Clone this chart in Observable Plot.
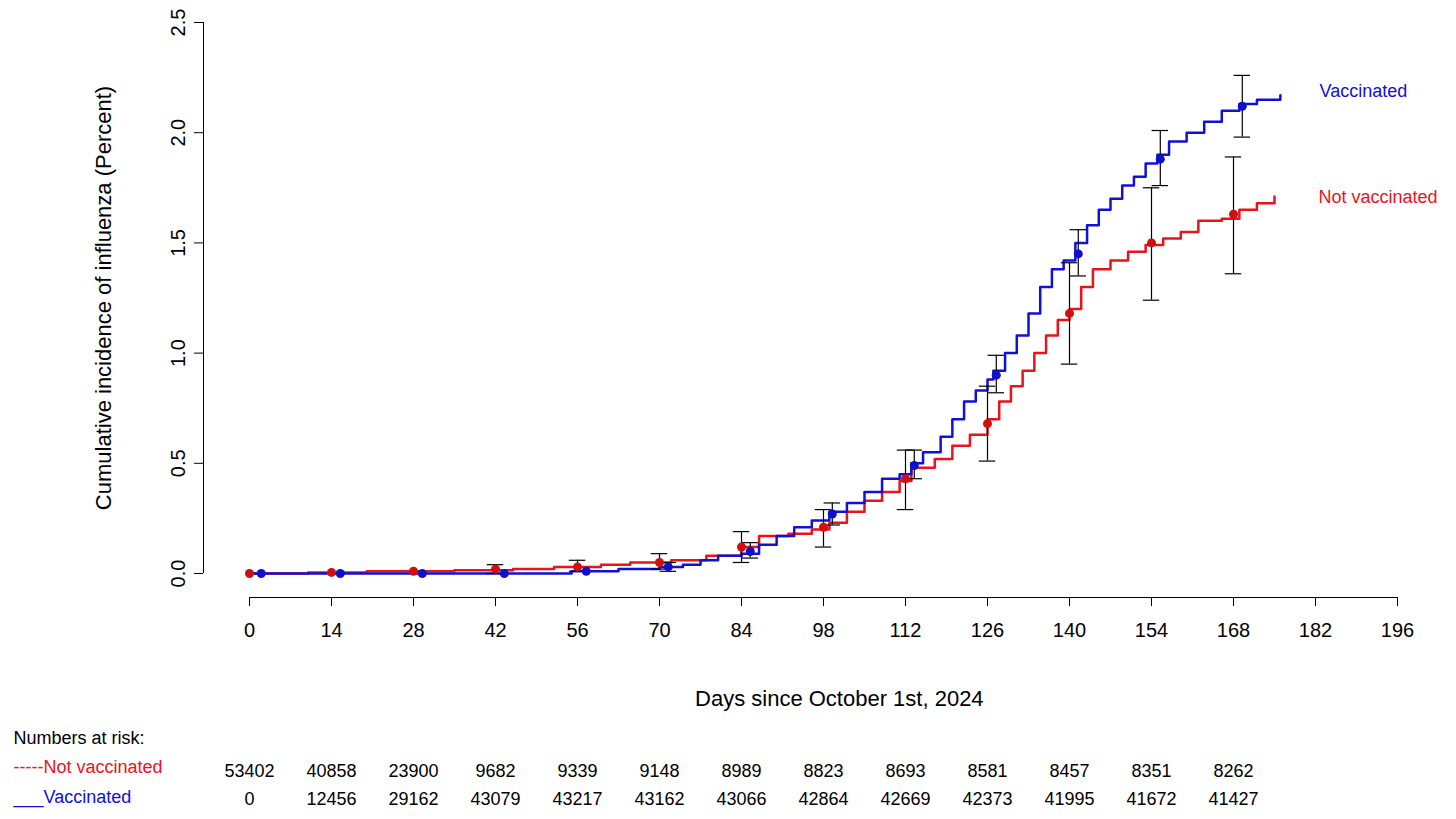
<!DOCTYPE html>
<html><head><meta charset="utf-8">
<script src="https://cdn.jsdelivr.net/npm/d3@7"></script>
<script src="https://cdn.jsdelivr.net/npm/@observablehq/plot@0.6"></script>
<style>body{margin:0;background:#fff}svg{font-family:"Liberation Sans",Arial,sans-serif}</style>
</head><body><div id="c"></div>
<script>
const vacDays=[0,55,63,70,74,77,80,84,87,90,93,96,99,102,105,108,111,113,115,118,120,122,124,126,127,129,131,133,135,137,139,141,143,145,147,149,151,153,155,157,160,163,166,169,172,176];
const vacVals=[0,0.01,0.02,0.03,0.04,0.06,0.08,0.09,0.13,0.17,0.21,0.24,0.28,0.32,0.37,0.43,0.45,0.50,0.55,0.62,0.70,0.78,0.83,0.88,0.92,1.00,1.08,1.18,1.30,1.38,1.42,1.50,1.58,1.65,1.70,1.76,1.80,1.86,1.90,1.96,2.00,2.05,2.10,2.13,2.15,2.17];
const notDays=[0,10,20,35,45,52,60,65,72,78,84,87,92,96,99,102,105,108,111,113,117,120,123,126,128,130,132,134,136,138,140,142,144,147,150,153,156,159,162,166,169,172,175];
const notVals=[0,0.005,0.01,0.015,0.02,0.03,0.04,0.05,0.06,0.08,0.12,0.17,0.18,0.20,0.23,0.28,0.33,0.37,0.42,0.48,0.52,0.58,0.63,0.70,0.78,0.85,0.92,1.00,1.08,1.15,1.20,1.30,1.38,1.42,1.46,1.49,1.52,1.55,1.60,1.61,1.65,1.68,1.71];
const ptDaysNot=[0,14,28,42,56,70,84,98,112,126,140,154,168];
const ptNot=[0,0.005,0.01,0.02,0.03,0.05,0.12,0.21,0.43,0.68,1.18,1.50,1.63];
const loNot=[0,0.005,0.01,0,0.01,0.02,0.05,0.12,0.29,0.51,0.95,1.24,1.36];
const hiNot=[0,0.005,0.01,0.04,0.06,0.09,0.19,0.29,0.56,0.85,1.41,1.75,1.89];
const ptDaysVac=[2,15.5,29.5,43.5,57.5,71.5,85.5,99.5,113.5,127.5,141.5,155.5,169.5];
const ptVac=[0,0,0,0,0.01,0.03,0.10,0.27,0.49,0.90,1.45,1.88,2.12];
const loVac=[0,0,0,0,0.01,0.01,0.07,0.22,0.43,0.82,1.35,1.76,1.98];
const hiVac=[0,0,0,0,0.01,0.05,0.14,0.32,0.56,0.99,1.56,2.01,2.26];
const xTicks=d3.range(0,197,14);
const yTicks=[0,0.5,1,1.5,2,2.5];
const riskDays=[0,14,28,42,56,70,84,98,112,126,140,154,168];
const riskNot=[53402,40858,23900,9682,9339,9148,8989,8823,8693,8581,8457,8351,8262];
const riskVac=[0,12456,29162,43079,43217,43162,43066,42864,42669,42373,41995,41672,41427];

const vac=vacDays.map((d,i)=>({d,v:vacVals[i]}));
const not=notDays.map((d,i)=>({d,v:notVals[i]}));
const pn=ptDaysNot.map((d,i)=>({d,v:ptNot[i],lo:loNot[i],hi:hiNot[i]}));
const pv=ptDaysVac.map((d,i)=>({d,v:ptVac[i],lo:loVac[i],hi:hiVac[i]}));
const bars=[...pn,...pv].filter(p=>p.hi-p.lo>0.001);
const caps=bars.flatMap(p=>[{d:p.d,y:p.lo},{d:p.d,y:p.hi}]);
const rn=riskDays.map((d,i)=>({d,n:riskNot[i]}));
const rv=riskDays.map((d,i)=>({d,n:riskVac[i]}));
const RED="#e8141b", BLUE="#1010d8";
const fs={fontSize:18};
const chart=Plot.plot({
  width:1456,height:819,marginLeft:249,marginRight:59,marginTop:22,marginBottom:246,
  style:{fontFamily:"Liberation Sans, Arial, sans-serif",background:"#fff",overflow:"visible"},
  x:{type:"linear",domain:[0,196]},y:{type:"linear",domain:[0,2.5]},
  marks:[
    Plot.ruleY([0],{x1:0,x2:196,dy:24,stroke:"#000"}),
    Plot.axisX({ticks:xTicks,tickSize:9,dy:24,tickPadding:16,fontSize:20,label:null,tickFormat:d=>d}),
    Plot.ruleX([0],{y1:0,y2:2.5,dx:-46,stroke:"#000"}),
    Plot.axisY({ticks:yTicks,tickSize:9,dx:-46,fontSize:20,label:null,tickRotate:-90,tickFormat:d3.format(".1f"),tickPadding:10}),
    Plot.text(["Cumulative incidence of influenza (Percent)"],{x:0,y:1.25,dx:-146,rotate:-90,fontSize:22,text:d=>d}),
    Plot.text(["Days since October 1st, 2024"],{x:100.7,y:0,dy:125,fontSize:22,text:d=>d}),
    Plot.line(not,{x:"d",y:"v",stroke:RED,strokeWidth:2.5,curve:"step-after"}),
    Plot.line(vac,{x:"d",y:"v",stroke:BLUE,strokeWidth:2.5,curve:"step-after"}),
    Plot.ruleX(bars,{x:"d",y1:"lo",y2:"hi",stroke:"#000",strokeWidth:1.2}),
    Plot.ruleY(caps,{y:"y",x1:d=>d.d-1.4,x2:d=>d.d+1.4,stroke:"#000",strokeWidth:1.2}),
    Plot.dot(pn,{x:"d",y:"v",fill:"#d01010",r:4.5}),
    Plot.dot(pv,{x:"d",y:"v",fill:"#1010c8",r:4.5}),
    Plot.text(["Vaccinated"],{x:182.7,y:2.187,textAnchor:"start",fill:BLUE,fontSize:18,text:d=>d}),
    Plot.text(["Not vaccinated"],{x:182.5,y:1.706,textAnchor:"start",fill:RED,fontSize:18,text:d=>d}),
    Plot.text(["Numbers at risk:"],{x:-40.3,y:0,dy:165,textAnchor:"start",fill:"#000",...fs,text:d=>d}),
    Plot.text(["-----Not vaccinated"],{x:-40.3,y:0,dy:194,textAnchor:"start",fill:RED,...fs,text:d=>d}),
    Plot.text(["___Vaccinated"],{x:-40.3,y:0,dy:224,textAnchor:"start",fill:BLUE,...fs,text:d=>d}),
    Plot.text(rn,{x:"d",y:0,dy:198,text:d=>String(d.n),fill:"#000",...fs}),
    Plot.text(rv,{x:"d",y:0,dy:226,text:d=>String(d.n),fill:"#000",...fs})
  ]
});
document.getElementById("c").append(chart);
</script></body></html>
